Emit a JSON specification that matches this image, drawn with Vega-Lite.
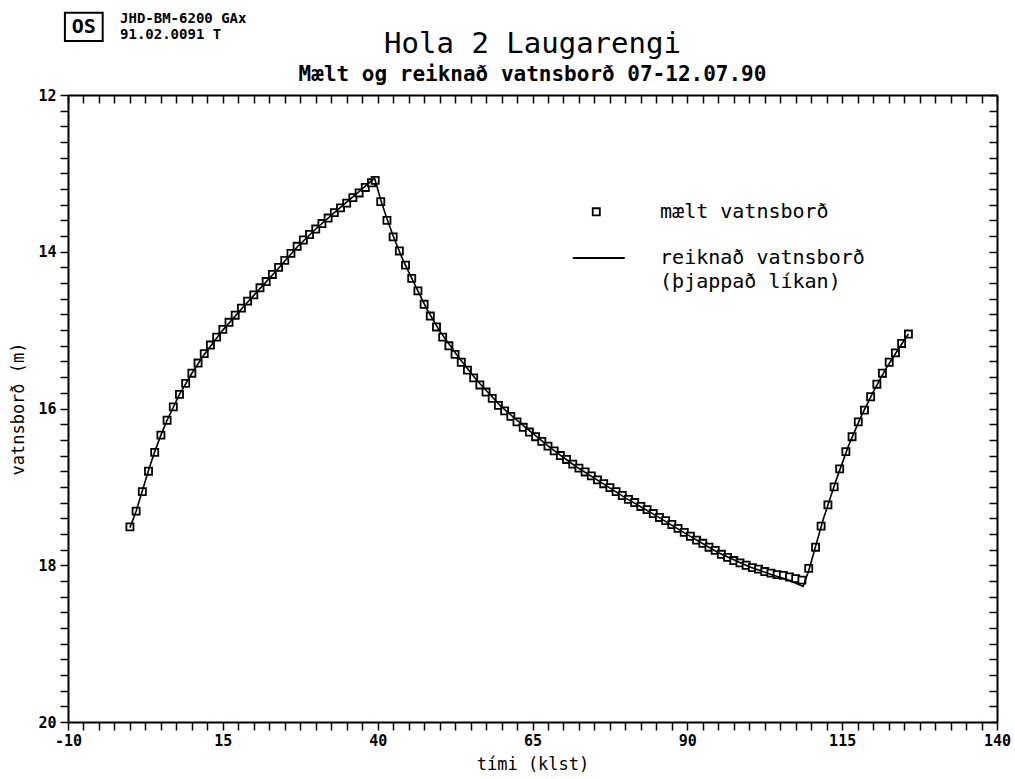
{
"$schema": "https://vega.github.io/schema/vega-lite/v6.json",
"width": 929,
"height": 627,
"autosize": {"type": "none"},
"padding": {"left": 68, "top": 95, "right": 18, "bottom": 57},
"background": "white",
"config": {
  "view": {"stroke": null},
  "font": "DejaVu Sans Mono",
  "axis": {"domainColor": "black", "domainWidth": 2, "tickColor": "black", "tickWidth": 1.5, "labelFont": "DejaVu Sans Mono", "labelFontSize": 15, "labelFontWeight": "bold", "labelColor": "black", "titleFont": "DejaVu Sans Mono", "titleFontSize": 17, "titleFontWeight": "normal", "titleColor": "black", "grid": false, "labelFlush": false, "labelOverlap": false, "labelBound": false}
},
"title": {"text": "Hola 2 Laugarengi", "subtitle": "Mælt og reiknað vatnsborð 07-12.07.90", "anchor": "middle", "font": "DejaVu Sans Mono", "fontSize": 29, "fontWeight": "normal", "color": "black", "subtitleFont": "DejaVu Sans Mono", "subtitleFontSize": 21, "subtitleFontWeight": "bold", "subtitleColor": "black", "subtitlePadding": 5, "offset": -73},
"data": {"values": [
{"serie":"mælt vatnsborð","t":0,"v":17.51},{"serie":"mælt vatnsborð","t":1,"v":17.31},{"serie":"mælt vatnsborð","t":2,"v":17.06},{"serie":"mælt vatnsborð","t":3,"v":16.80},{"serie":"mælt vatnsborð","t":4,"v":16.56},{"serie":"mælt vatnsborð","t":5,"v":16.34},{"serie":"mælt vatnsborð","t":6,"v":16.15},{"serie":"mælt vatnsborð","t":7,"v":15.98},{"serie":"mælt vatnsborð","t":8,"v":15.82},{"serie":"mælt vatnsborð","t":9,"v":15.68},
{"serie":"mælt vatnsborð","t":10,"v":15.55},{"serie":"mælt vatnsborð","t":11,"v":15.42},{"serie":"mælt vatnsborð","t":12,"v":15.30},{"serie":"mælt vatnsborð","t":13,"v":15.19},{"serie":"mælt vatnsborð","t":14,"v":15.09},{"serie":"mælt vatnsborð","t":15,"v":14.99},{"serie":"mælt vatnsborð","t":16,"v":14.90},{"serie":"mælt vatnsborð","t":17,"v":14.81},{"serie":"mælt vatnsborð","t":18,"v":14.72},{"serie":"mælt vatnsborð","t":19,"v":14.63},
{"serie":"mælt vatnsborð","t":20,"v":14.55},{"serie":"mælt vatnsborð","t":21,"v":14.46},{"serie":"mælt vatnsborð","t":22,"v":14.38},{"serie":"mælt vatnsborð","t":23,"v":14.29},{"serie":"mælt vatnsborð","t":24,"v":14.20},{"serie":"mælt vatnsborð","t":25,"v":14.11},{"serie":"mælt vatnsborð","t":26,"v":14.02},{"serie":"mælt vatnsborð","t":27,"v":13.93},{"serie":"mælt vatnsborð","t":28,"v":13.85},{"serie":"mælt vatnsborð","t":29,"v":13.78},
{"serie":"mælt vatnsborð","t":30,"v":13.71},{"serie":"mælt vatnsborð","t":31,"v":13.64},{"serie":"mælt vatnsborð","t":32,"v":13.57},{"serie":"mælt vatnsborð","t":33,"v":13.50},{"serie":"mælt vatnsborð","t":34,"v":13.44},{"serie":"mælt vatnsborð","t":35,"v":13.38},{"serie":"mælt vatnsborð","t":36,"v":13.31},{"serie":"mælt vatnsborð","t":37,"v":13.25},{"serie":"mælt vatnsborð","t":38,"v":13.18},{"serie":"mælt vatnsborð","t":39,"v":13.12},
{"serie":"mælt vatnsborð","t":39.6,"v":13.09},
{"serie":"mælt vatnsborð","t":40.5,"v":13.36},{"serie":"mælt vatnsborð","t":41.5,"v":13.60},{"serie":"mælt vatnsborð","t":42.5,"v":13.81},{"serie":"mælt vatnsborð","t":43.5,"v":13.99},{"serie":"mælt vatnsborð","t":44.5,"v":14.17},{"serie":"mælt vatnsborð","t":45.5,"v":14.34},{"serie":"mælt vatnsborð","t":46.5,"v":14.50},{"serie":"mælt vatnsborð","t":47.5,"v":14.67},{"serie":"mælt vatnsborð","t":48.5,"v":14.82},{"serie":"mælt vatnsborð","t":49.5,"v":14.96},
{"serie":"mælt vatnsborð","t":50.5,"v":15.09},{"serie":"mælt vatnsborð","t":51.5,"v":15.20},{"serie":"mælt vatnsborð","t":52.5,"v":15.31},{"serie":"mælt vatnsborð","t":53.5,"v":15.41},{"serie":"mælt vatnsborð","t":54.5,"v":15.51},{"serie":"mælt vatnsborð","t":55.5,"v":15.61},{"serie":"mælt vatnsborð","t":56.5,"v":15.70},{"serie":"mælt vatnsborð","t":57.5,"v":15.79},{"serie":"mælt vatnsborð","t":58.5,"v":15.87},{"serie":"mælt vatnsborð","t":59.5,"v":15.96},
{"serie":"mælt vatnsborð","t":60.5,"v":16.03},{"serie":"mælt vatnsborð","t":61.5,"v":16.10},{"serie":"mælt vatnsborð","t":62.5,"v":16.17},{"serie":"mælt vatnsborð","t":63.5,"v":16.24},{"serie":"mælt vatnsborð","t":64.5,"v":16.30},{"serie":"mælt vatnsborð","t":65.5,"v":16.36},{"serie":"mælt vatnsborð","t":66.5,"v":16.42},{"serie":"mælt vatnsborð","t":67.5,"v":16.48},{"serie":"mælt vatnsborð","t":68.5,"v":16.54},{"serie":"mælt vatnsborð","t":69.5,"v":16.60},
{"serie":"mælt vatnsborð","t":70.5,"v":16.65},{"serie":"mælt vatnsborð","t":71.5,"v":16.71},{"serie":"mælt vatnsborð","t":72.5,"v":16.76},{"serie":"mælt vatnsborð","t":73.5,"v":16.81},{"serie":"mælt vatnsborð","t":74.5,"v":16.86},{"serie":"mælt vatnsborð","t":75.5,"v":16.91},{"serie":"mælt vatnsborð","t":76.5,"v":16.96},{"serie":"mælt vatnsborð","t":77.5,"v":17.01},{"serie":"mælt vatnsborð","t":78.5,"v":17.06},{"serie":"mælt vatnsborð","t":79.5,"v":17.11},
{"serie":"mælt vatnsborð","t":80.5,"v":17.16},{"serie":"mælt vatnsborð","t":81.5,"v":17.20},{"serie":"mælt vatnsborð","t":82.5,"v":17.25},{"serie":"mælt vatnsborð","t":83.5,"v":17.29},{"serie":"mælt vatnsborð","t":84.5,"v":17.34},{"serie":"mælt vatnsborð","t":85.5,"v":17.39},{"serie":"mælt vatnsborð","t":86.5,"v":17.43},{"serie":"mælt vatnsborð","t":87.5,"v":17.48},{"serie":"mælt vatnsborð","t":88.5,"v":17.53},{"serie":"mælt vatnsborð","t":89.5,"v":17.58},
{"serie":"mælt vatnsborð","t":90.5,"v":17.63},{"serie":"mælt vatnsborð","t":91.5,"v":17.68},{"serie":"mælt vatnsborð","t":92.5,"v":17.72},{"serie":"mælt vatnsborð","t":93.5,"v":17.77},{"serie":"mælt vatnsborð","t":94.5,"v":17.81},{"serie":"mælt vatnsborð","t":95.5,"v":17.86},{"serie":"mælt vatnsborð","t":96.5,"v":17.90},{"serie":"mælt vatnsborð","t":97.5,"v":17.94},{"serie":"mælt vatnsborð","t":98.5,"v":17.97},{"serie":"mælt vatnsborð","t":99.5,"v":18.00},
{"serie":"mælt vatnsborð","t":100.5,"v":18.03},{"serie":"mælt vatnsborð","t":101.5,"v":18.05},{"serie":"mælt vatnsborð","t":102.5,"v":18.08},{"serie":"mælt vatnsborð","t":103.5,"v":18.10},{"serie":"mælt vatnsborð","t":104.5,"v":18.12},{"serie":"mælt vatnsborð","t":105.5,"v":18.13},{"serie":"mælt vatnsborð","t":106.5,"v":18.15},{"serie":"mælt vatnsborð","t":107.5,"v":18.17},{"serie":"mælt vatnsborð","t":108.5,"v":18.19},
{"serie":"mælt vatnsborð","t":109.6,"v":18.04},{"serie":"mælt vatnsborð","t":110.7,"v":17.77},{"serie":"mælt vatnsborð","t":111.6,"v":17.50},{"serie":"mælt vatnsborð","t":112.7,"v":17.23},{"serie":"mælt vatnsborð","t":113.7,"v":17.00},{"serie":"mælt vatnsborð","t":114.6,"v":16.77},{"serie":"mælt vatnsborð","t":115.6,"v":16.55},{"serie":"mælt vatnsborð","t":116.6,"v":16.36},{"serie":"mælt vatnsborð","t":117.6,"v":16.17},{"serie":"mælt vatnsborð","t":118.6,"v":16.02},
{"serie":"mælt vatnsborð","t":119.6,"v":15.85},{"serie":"mælt vatnsborð","t":120.6,"v":15.69},{"serie":"mælt vatnsborð","t":121.5,"v":15.55},{"serie":"mælt vatnsborð","t":122.6,"v":15.41},{"serie":"mælt vatnsborð","t":123.6,"v":15.29},{"serie":"mælt vatnsborð","t":124.6,"v":15.17},{"serie":"mælt vatnsborð","t":125.7,"v":15.05},
{"serie":"reiknað vatnsborð","t":0,"v":17.52},{"serie":"reiknað vatnsborð","t":1,"v":17.31},{"serie":"reiknað vatnsborð","t":2,"v":17.05},{"serie":"reiknað vatnsborð","t":3,"v":16.79},{"serie":"reiknað vatnsborð","t":4,"v":16.55},{"serie":"reiknað vatnsborð","t":5,"v":16.34},{"serie":"reiknað vatnsborð","t":6,"v":16.15},{"serie":"reiknað vatnsborð","t":8,"v":15.82},{"serie":"reiknað vatnsborð","t":10,"v":15.55},{"serie":"reiknað vatnsborð","t":12,"v":15.31},
{"serie":"reiknað vatnsborð","t":15,"v":15.00},{"serie":"reiknað vatnsborð","t":18,"v":14.73},{"serie":"reiknað vatnsborð","t":21,"v":14.47},{"serie":"reiknað vatnsborð","t":24,"v":14.21},{"serie":"reiknað vatnsborð","t":27,"v":13.94},{"serie":"reiknað vatnsborð","t":30,"v":13.71},{"serie":"reiknað vatnsborð","t":33,"v":13.50},{"serie":"reiknað vatnsborð","t":36,"v":13.30},{"serie":"reiknað vatnsborð","t":39.5,"v":13.06},
{"serie":"reiknað vatnsborð","t":40.5,"v":13.34},{"serie":"reiknað vatnsborð","t":41.5,"v":13.58},{"serie":"reiknað vatnsborð","t":42.5,"v":13.80},{"serie":"reiknað vatnsborð","t":44,"v":14.09},{"serie":"reiknað vatnsborð","t":46,"v":14.42},{"serie":"reiknað vatnsborð","t":48,"v":14.74},{"serie":"reiknað vatnsborð","t":50,"v":15.01},{"serie":"reiknað vatnsborð","t":53,"v":15.34},{"serie":"reiknað vatnsborð","t":56,"v":15.64},{"serie":"reiknað vatnsborð","t":60,"v":15.98},
{"serie":"reiknað vatnsborð","t":64,"v":16.25},{"serie":"reiknað vatnsborð","t":68,"v":16.51},{"serie":"reiknað vatnsborð","t":72,"v":16.74},{"serie":"reiknað vatnsborð","t":76,"v":16.94},{"serie":"reiknað vatnsborð","t":80,"v":17.14},{"serie":"reiknað vatnsborð","t":85,"v":17.37},{"serie":"reiknað vatnsborð","t":90,"v":17.61},{"serie":"reiknað vatnsborð","t":95,"v":17.84},{"serie":"reiknað vatnsborð","t":100,"v":18.02},{"serie":"reiknað vatnsborð","t":104,"v":18.13},
{"serie":"reiknað vatnsborð","t":106,"v":18.18},{"serie":"reiknað vatnsborð","t":108.7,"v":18.27},{"serie":"reiknað vatnsborð","t":109.6,"v":18.07},{"serie":"reiknað vatnsborð","t":110.7,"v":17.76},{"serie":"reiknað vatnsborð","t":112,"v":17.40},{"serie":"reiknað vatnsborð","t":114,"v":16.92},{"serie":"reiknað vatnsborð","t":116,"v":16.48},{"serie":"reiknað vatnsborð","t":118,"v":16.11},{"serie":"reiknað vatnsborð","t":120,"v":15.79},{"serie":"reiknað vatnsborð","t":122,"v":15.50},
{"serie":"reiknað vatnsborð","t":124,"v":15.25},{"serie":"reiknað vatnsborð","t":125.7,"v":15.05}
]},
"layer": [
  {
    "transform": [{"filter": "datum.serie == 'mælt vatnsborð'"}],
    "mark": {"type": "point", "shape": "square", "filled": true, "fill": "white", "stroke": "black", "strokeWidth": 1.8, "opacity": 1, "size": 50},
    "encoding": {
      "x": {"field": "t", "type": "quantitative", "scale": {"domain": [-10, 140], "nice": false, "zero": false},
        "axis": {"orient": "bottom", "title": "tími (klst)", "tickSize": 8, "labelPadding": 3, "titlePadding": 8,
          "values": [-10,-7.5,-5,-2.5,0,2.5,5,7.5,10,12.5,15,17.5,20,22.5,25,27.5,30,32.5,35,37.5,40,42.5,45,47.5,50,52.5,55,57.5,60,62.5,65,67.5,70,72.5,75,77.5,80,82.5,85,87.5,90,92.5,95,97.5,100,102.5,105,107.5,110,112.5,115,117.5,120,122.5,125,127.5,130,132.5,135,137.5,140],
          "labelExpr": "(datum.value + 10) % 25 == 0 ? '' + datum.value : ''"}},
      "y": {"field": "v", "type": "quantitative", "scale": {"domain": [12, 20], "nice": false, "zero": false, "reverse": true},
        "axis": {"orient": "left", "title": "vatnsborð (m)", "tickSize": 8, "labelPadding": 4, "titlePadding": 10,
          "values": [12,12.2,12.4,12.6,12.8,13,13.2,13.4,13.6,13.8,14,14.2,14.4,14.6,14.8,15,15.2,15.4,15.6,15.8,16,16.2,16.4,16.6,16.8,17,17.2,17.4,17.6,17.8,18,18.2,18.4,18.6,18.8,19,19.2,19.4,19.6,19.8,20],
          "labelExpr": "datum.value % 2 == 0 ? '' + datum.value : ''"}}
    }
  },
  {
    "transform": [{"filter": "datum.serie == 'reiknað vatnsborð'"}],
    "mark": {"type": "line", "color": "black", "strokeWidth": 1.6},
    "encoding": {
      "x": {"field": "t", "type": "quantitative", "scale": {"domain": [-10, 140], "nice": false, "zero": false},
        "axis": {"orient": "top", "title": null, "labels": false, "tickSize": -8,
          "values": [-10,-7.5,-5,-2.5,0,2.5,5,7.5,10,12.5,15,17.5,20,22.5,25,27.5,30,32.5,35,37.5,40,42.5,45,47.5,50,52.5,55,57.5,60,62.5,65,67.5,70,72.5,75,77.5,80,82.5,85,87.5,90,92.5,95,97.5,100,102.5,105,107.5,110,112.5,115,117.5,120,122.5,125,127.5,130,132.5,135,137.5,140]}},
      "y": {"field": "v", "type": "quantitative", "scale": {"domain": [12, 20], "nice": false, "zero": false, "reverse": true},
        "axis": {"orient": "right", "title": null, "labels": false, "tickSize": -8,
          "values": [12,12.2,12.4,12.6,12.8,13,13.2,13.4,13.6,13.8,14,14.2,14.4,14.6,14.8,15,15.2,15.4,15.6,15.8,16,16.2,16.4,16.6,16.8,17,17.2,17.4,17.6,17.8,18,18.2,18.4,18.6,18.8,19,19.2,19.4,19.6,19.8,20]}}
    }
  },
  {
    "data": {"values": [{}]},
    "mark": {"type": "point", "shape": "square", "filled": true, "fill": "white", "stroke": "black", "strokeWidth": 1.8, "opacity": 1, "size": 50},
    "encoding": {"x": {"datum": 75.3, "type": "quantitative", "axis": null}, "y": {"datum": 13.49, "type": "quantitative", "axis": null}}
  },
  {
    "data": {"values": [{}]},
    "mark": {"type": "rule", "color": "black", "strokeWidth": 2},
    "encoding": {"x": {"datum": 71.5, "type": "quantitative", "axis": null}, "x2": {"datum": 79.9}, "y": {"datum": 14.08, "type": "quantitative", "axis": null}}
  },
  {
    "data": {"values": [{}]},
    "mark": {"type": "text", "text": "mælt vatnsborð", "font": "DejaVu Sans Mono", "fontSize": 20, "align": "left", "baseline": "middle", "color": "black"},
    "encoding": {"x": {"datum": 85.6, "type": "quantitative", "axis": null}, "y": {"datum": 13.49, "type": "quantitative", "axis": null}}
  },
  {
    "data": {"values": [{}]},
    "mark": {"type": "text", "text": "reiknað vatnsborð", "font": "DejaVu Sans Mono", "fontSize": 20, "align": "left", "baseline": "middle", "color": "black"},
    "encoding": {"x": {"datum": 85.6, "type": "quantitative", "axis": null}, "y": {"datum": 14.08, "type": "quantitative", "axis": null}}
  },
  {
    "data": {"values": [{}]},
    "mark": {"type": "text", "text": "(þjappað líkan)", "font": "DejaVu Sans Mono", "fontSize": 20, "align": "left", "baseline": "middle", "color": "black"},
    "encoding": {"x": {"datum": 85.6, "type": "quantitative", "axis": null}, "y": {"datum": 14.385, "type": "quantitative", "axis": null}}
  },
  {
    "data": {"values": [{}]},
    "mark": {"type": "text", "text": "JHD-BM-6200 GAx", "font": "DejaVu Sans Mono", "fontSize": 14, "fontWeight": "bold", "align": "left", "baseline": "alphabetic", "color": "black"},
    "encoding": {"x": {"datum": -1.6, "type": "quantitative", "axis": null}, "y": {"datum": 11.087, "type": "quantitative", "axis": null}}
  },
  {
    "data": {"values": [{}]},
    "mark": {"type": "text", "text": "91.02.0091  T", "font": "DejaVu Sans Mono", "fontSize": 14, "fontWeight": "bold", "align": "left", "baseline": "alphabetic", "color": "black"},
    "encoding": {"x": {"datum": -1.6, "type": "quantitative", "axis": null}, "y": {"datum": 11.286, "type": "quantitative", "axis": null}}
  },
  {
    "data": {"values": [{}]},
    "mark": {"type": "rect", "fill": null, "stroke": "black", "strokeWidth": 2},
    "encoding": {"x": {"datum": -10.5, "type": "quantitative", "axis": null}, "x2": {"datum": -4.4}, "y": {"datum": 10.95, "type": "quantitative", "axis": null}, "y2": {"datum": 11.31}}
  },
  {
    "data": {"values": [{}]},
    "mark": {"type": "text", "text": "OS", "font": "DejaVu Sans Mono", "fontSize": 20, "fontWeight": "bold", "align": "center", "baseline": "middle", "color": "black"},
    "encoding": {"x": {"datum": -7.45, "type": "quantitative", "axis": null}, "y": {"datum": 11.13, "type": "quantitative", "axis": null}}
  }
],
"resolve": {"axis": {"x": "independent", "y": "independent"}}
}
